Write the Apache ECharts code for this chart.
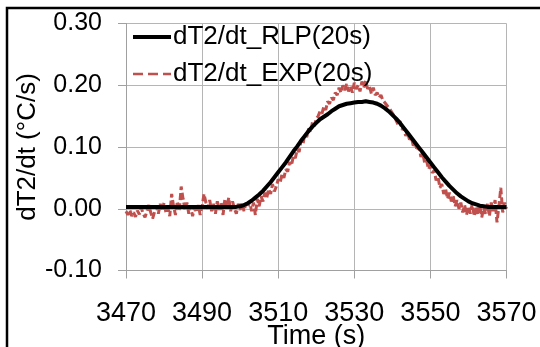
<!DOCTYPE html>
<html>
<head>
<meta charset="utf-8">
<script src="https://cdn.jsdelivr.net/npm/echarts@6/dist/echarts.min.js"></script>
<style>
html,body{margin:0;padding:0;background:#fff;}
#chart{width:540px;height:347px;}
</style>
</head>
<body>
<div id="chart"></div>
<script>
// ---- Data ----
const seriesNames = ['dT2/dt_RLP(20s)', 'dT2/dt_EXP(20s)'];
const xTicks = [3470, 3490, 3510, 3530, 3550, 3570];
const yTicks = [-0.10, 0.00, 0.10, 0.20, 0.30];
const startTime = 3470;
const rlpStep = 1;     // s between RLP samples
const expStep = 0.5;   // s between EXP samples

// dT2/dt_RLP(20s), 3470..3570 s, one value per second
const rlpValues = [
  0.003,0.003,0.003,0.003,0.003,0.003,0.003,0.003,0.003,0.003,
  0.003,0.003,0.003,0.003,0.003,0.003,0.003,0.003,0.003,0.003,
  0.003,0.003,0.003,0.003,0.003,0.003,0.003,0.003,0.003,0.003,
  0.004,0.006,0.009,0.013,0.018,0.023,0.029,0.036,0.043,0.051,
  0.059,0.067,0.075,0.084,0.093,0.101,0.110,0.118,0.126,0.133,
  0.139,0.145,0.149,0.153,0.158,0.162,0.166,0.168,0.170,0.171,
  0.172,0.173,0.173,0.174,0.173,0.172,0.170,0.167,0.163,0.158,
  0.152,0.146,0.139,0.131,0.123,0.115,0.107,0.099,0.091,0.083,
  0.075,0.067,0.059,0.051,0.044,0.037,0.031,0.025,0.020,0.016,
  0.012,0.009,0.007,0.005,0.004,0.003,0.003,0.003,0.003,0.003,
  0.003
];

// dT2/dt_EXP(20s), 3470..3570 s, one value per half second
const expValues = [
  -0.004,-0.010,-0.002,-0.012,-0.006,-0.013,-0.003,-0.009,0.002,-0.008,
  -0.014,-0.004,0.006,-0.006,-0.016,-0.005,0.004,-0.008,0.008,-0.004,0.010,
  -0.006,0.002,-0.012,0.024,0.004,-0.010,0.012,-0.004,0.036,0.016,
  -0.002,0.010,-0.008,0.004,-0.012,0.002,-0.006,0.006,-0.010,0.004,
  0.024,0.010,0.000,0.014,-0.004,0.008,-0.008,0.012,-0.002,0.010,
  -0.010,0.016,0.002,0.018,-0.004,0.012,0.000,-0.008,0.008,-0.002,
  0.010,-0.004,0.008,0.002,0.012,-0.004,0.010,-0.010,0.016,0.004,
  0.020,0.012,0.026,0.018,0.032,0.024,0.040,0.028,0.036,0.048,
  0.042,0.056,0.050,0.064,0.060,0.076,0.070,0.086,0.082,0.096,
  0.092,0.110,0.104,0.122,0.116,0.130,0.124,0.140,0.134,0.146,
  0.150,0.158,0.154,0.166,0.160,0.174,0.170,0.180,0.176,0.188,
  0.184,0.196,0.188,0.200,0.192,0.202,0.190,0.198,0.188,0.204,
  0.194,0.200,0.190,0.206,0.196,0.208,0.194,0.198,0.186,0.196,
  0.184,0.188,0.180,0.184,0.176,0.178,0.168,0.170,0.160,0.158,
  0.150,0.148,0.136,0.142,0.128,0.132,0.118,0.124,0.112,0.116,
  0.102,0.108,0.094,0.100,0.084,0.090,0.074,0.078,0.064,0.070,
  0.058,0.062,0.046,0.052,0.034,0.040,0.024,0.032,0.016,0.026,
  0.012,0.020,0.004,0.014,0.000,0.010,-0.006,0.006,-0.010,0.004,
  -0.008,0.008,-0.012,0.004,-0.010,0.006,-0.014,0.002,-0.008,0.008,
  -0.012,0.010,-0.004,0.014,-0.022,0.004,0.034,-0.006,0.010,0.000
];

const rlpData = rlpValues.map((v, i) => [startTime + i * rlpStep, v]);
const expData = expValues.map((v, i) => [startTime + i * expStep, v]);

const FONT = '"Liberation Sans", Arial, sans-serif';
const GRID = '#b5b5b5';
const AXIS = '#a0a0a0';
const RED = '#c0504d';

const chart = echarts.init(document.getElementById('chart'), null, {renderer: 'canvas'});
chart.setOption({
  animation: false,
  backgroundColor: '#ffffff',
  textStyle: {fontFamily: FONT, color: '#000'},
  grid: {left: 126, right: 33.5, top: 23.5, bottom: 76.5, containLabel: false, outerBoundsMode: 'none'},
  legend: {
    data: [
      {name: seriesNames[0], lineStyle: {width: 4, color: '#000'}},
      {name: seriesNames[1], lineStyle: {width: 2.5, color: RED, type: 'dashed'}}
    ],
    orient: 'vertical',
    left: 131,
    top: 24,
    itemWidth: 38,
    itemHeight: 14,
    itemGap: 11,
    itemStyle: {opacity: 0},
    textStyle: {fontFamily: FONT, fontSize: 26, color: '#000', padding: [0,0,0,-3]},
    padding: 0
  },
  xAxis: {
    type: 'value',
    min: xTicks[0],
    max: xTicks[xTicks.length - 1],
    interval: 20,
    name: 'Time (s)',
    nameLocation: 'middle',
    nameGap: 53,
    nameMoveOverlap: false,
    nameTextStyle: {fontFamily: FONT, fontSize: 27, color: '#000'},
    axisLine: {show: true, onZero: false, lineStyle: {color: AXIS, width: 1}},
    axisTick: {show: true, length: 8, inside: false, lineStyle: {color: AXIS}},
    axisLabel: {fontFamily: FONT, fontSize: 27, color: '#000', margin: 30,
      formatter: v => String(v)},
    splitLine: {show: true, lineStyle: {color: GRID, width: 1}}
  },
  yAxis: {
    type: 'value',
    min: yTicks[0],
    max: yTicks[yTicks.length - 1],
    interval: 0.1,
    name: 'dT2/dt (°C/s)',
    nameLocation: 'middle',
    nameRotate: 90,
    nameGap: 85,
    nameMoveOverlap: false,
    nameTextStyle: {fontFamily: FONT, fontSize: 26, color: '#000'},
    axisLine: {show: true, onZero: false, lineStyle: {color: AXIS, width: 1}},
    axisTick: {show: true, length: 8, inside: false, lineStyle: {color: AXIS}},
    axisLabel: {fontFamily: FONT, fontSize: 25, color: '#000', margin: 24,
      formatter: v => v.toFixed(2)},
    splitLine: {show: true, lineStyle: {color: GRID, width: 1}}
  },
  series: [
    {
      name: seriesNames[0],
      type: 'line',
      data: rlpData,
      showSymbol: false,
      symbol: 'none',
      lineStyle: {color: '#000000', width: 4},
      itemStyle: {color: '#000000'},
      z: 3
    },
    {
      name: seriesNames[1],
      type: 'line',
      data: expData,
      showSymbol: false,
      symbol: 'none',
      lineStyle: {color: RED, width: 3, type: [7, 3]},
      itemStyle: {color: RED},
      z: 2
    }
  ],
  graphic: [
    {
      type: 'polyline',
      silent: true,
      shape: {points: [[7, 347], [7, 8], [540, 8]]},
      style: {stroke: '#000', lineWidth: 2.5, fill: null}
    }
  ]
});
</script>
</body>
</html>
